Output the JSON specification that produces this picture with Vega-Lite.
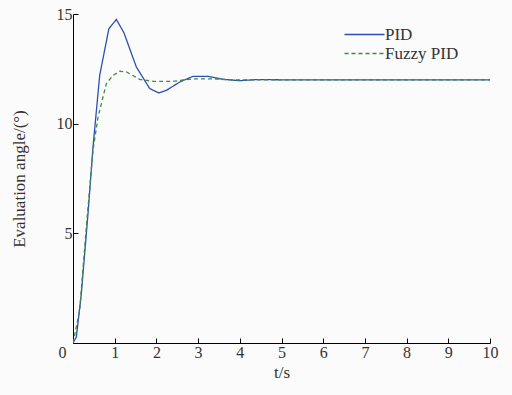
{
  "$schema": "https://vega.github.io/schema/vega-lite/v6.json",
  "width": 417,
  "height": 329,
  "autosize": {"type": "none"},
  "padding": {"left": 73, "top": 14, "right": 22, "bottom": 52},
  "background": "#fbfbfb",
  "config": {
    "view": {"stroke": null},
    "font": "Liberation Serif"
  },
  "data": {
    "values": [
      {"t": 0, "y": 0, "series": "PID"},
      {"t": 0.08, "y": 0.27, "series": "PID"},
      {"t": 0.2, "y": 2.25, "series": "PID"},
      {"t": 0.36, "y": 5.9, "series": "PID"},
      {"t": 0.48, "y": 8.94, "series": "PID"},
      {"t": 0.64, "y": 12.2, "series": "PID"},
      {"t": 0.86, "y": 14.33, "series": "PID"},
      {"t": 1.04, "y": 14.75, "series": "PID"},
      {"t": 1.22, "y": 14.15, "series": "PID"},
      {"t": 1.52, "y": 12.58, "series": "PID"},
      {"t": 1.84, "y": 11.6, "series": "PID"},
      {"t": 2.06, "y": 11.4, "series": "PID"},
      {"t": 2.24, "y": 11.52, "series": "PID"},
      {"t": 2.56, "y": 11.9, "series": "PID"},
      {"t": 2.88, "y": 12.16, "series": "PID"},
      {"t": 3.24, "y": 12.16, "series": "PID"},
      {"t": 3.6, "y": 12.02, "series": "PID"},
      {"t": 4.0, "y": 11.96, "series": "PID"},
      {"t": 4.4, "y": 12.01, "series": "PID"},
      {"t": 5, "y": 12, "series": "PID"},
      {"t": 10, "y": 12, "series": "PID"},
      {"t": 0, "y": 0, "series": "Fuzzy PID"},
      {"t": 0.16, "y": 1.49, "series": "Fuzzy PID"},
      {"t": 0.32, "y": 5.29, "series": "Fuzzy PID"},
      {"t": 0.48, "y": 8.79, "series": "Fuzzy PID"},
      {"t": 0.6, "y": 10.3, "series": "Fuzzy PID"},
      {"t": 0.8, "y": 11.83, "series": "Fuzzy PID"},
      {"t": 0.96, "y": 12.2, "series": "Fuzzy PID"},
      {"t": 1.12, "y": 12.39, "series": "Fuzzy PID"},
      {"t": 1.28, "y": 12.36, "series": "Fuzzy PID"},
      {"t": 1.6, "y": 12.02, "series": "Fuzzy PID"},
      {"t": 1.92, "y": 11.93, "series": "Fuzzy PID"},
      {"t": 2.4, "y": 11.93, "series": "Fuzzy PID"},
      {"t": 2.88, "y": 12.04, "series": "Fuzzy PID"},
      {"t": 3.36, "y": 12.04, "series": "Fuzzy PID"},
      {"t": 3.84, "y": 12.0, "series": "Fuzzy PID"},
      {"t": 10, "y": 12, "series": "Fuzzy PID"}
    ]
  },
  "mark": {"type": "line", "strokeWidth": 1.3, "clip": true},
  "encoding": {
    "x": {
      "field": "t",
      "type": "quantitative",
      "scale": {"domain": [0, 10], "nice": false, "zero": false},
      "axis": {
        "title": "t/s",
        "values": [0, 1, 2, 3, 4, 5, 6, 7, 8, 9, 10],
        "grid": false,
        "domainColor": "#000",
        "tickColor": "#000",
        "tickSize": -5,
        "labelFontSize": 16,
        "labelFont": "Liberation Serif",
        "labelColor": "#333",
        "labelPadding": 6,
        "labelOffset": {"condition": {"test": "datum.value === 0", "value": -11}, "value": 0},
        "titleFontSize": 17,
        "titleFont": "Liberation Serif",
        "titleFontWeight": "normal",
        "titleColor": "#333",
        "titlePadding": 4,
        "labelFlush": false
      }
    },
    "y": {
      "field": "y",
      "type": "quantitative",
      "scale": {"domain": [0, 15], "nice": false},
      "axis": {
        "title": "Evaluation angle/(°)",
        "values": [5, 10, 15],
        "grid": false,
        "domainColor": "#000",
        "tickColor": "#000",
        "tickSize": -5,
        "labelFontSize": 16,
        "labelFont": "Liberation Serif",
        "labelColor": "#333",
        "labelPadding": 6,
        "titleFontSize": 17,
        "titleFont": "Liberation Serif",
        "titleFontWeight": "normal",
        "titleColor": "#333",
        "titlePadding": 28,
        "labelFlush": false
      }
    },
    "color": {
      "field": "series",
      "type": "nominal",
      "scale": {"domain": ["PID", "Fuzzy PID"], "range": ["#2b50b4", "#3d8d3d"]},
      "legend": {
        "title": null,
        "orient": "none",
        "legendX": 283,
        "legendY": 12,
        "symbolType": "M-4,0H4",
        "symbolSize": 100,
        "symbolStrokeWidth": 1.3,
        "symbolFillColor": "transparent",
        "labelFontSize": 17,
        "labelFont": "Liberation Serif",
        "labelColor": "#333",
        "labelOffset": 12,
        "rowPadding": 1,
        "fillColor": null
      }
    },
    "strokeDash": {
      "field": "series",
      "type": "nominal",
      "scale": {"domain": ["PID", "Fuzzy PID"], "range": [[1, 0], [4, 3]]},
      "legend": null
    }
  }
}
